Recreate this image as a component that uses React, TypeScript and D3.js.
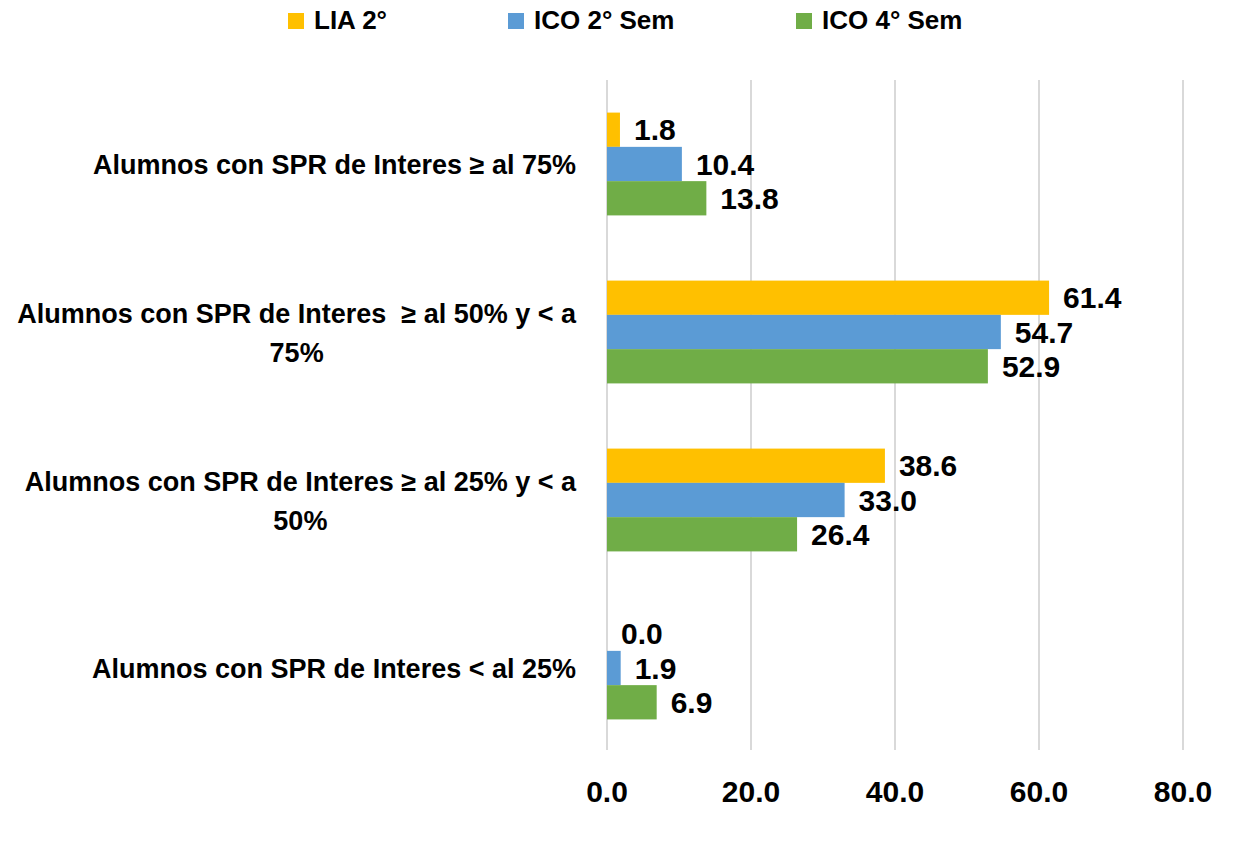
import React, { useRef, useEffect } from "react";
import * as d3 from "d3";

// Categories (top to bottom), each split into display lines
const categories: string[][] = [
    ["Alumnos con SPR de Interes ≥ al 75%"],
    ["Alumnos con SPR de Interes  ≥ al 50% y < a", "75%"],
    ["Alumnos con SPR de Interes ≥ al 25% y < a", "50%"],
    ["Alumnos con SPR de Interes < al 25%"],
];

const seriesNames = ["LIA 2°", "ICO 2° Sem", "ICO 4° Sem"];
const seriesColors = ["#FFC000", "#5B9BD5", "#70AD47"];

const liaValues = [1.8, 61.4, 38.6, 0.0];
const ico2Values = [10.4, 54.7, 33.0, 1.9];
const ico4Values = [13.8, 52.9, 26.4, 6.9];

const xTicks = [0, 20, 40, 60, 80];

const FONT = "'Liberation Sans', Arial, sans-serif";

export default function App() {
    const svgRef = useRef<SVGSVGElement>(null);

    useEffect(() => {
        if (!svgRef.current) return;
        const svg = d3.select(svgRef.current);
        svg.selectAll("*").remove();

        const W = 1258, H = 855;
        const plot = { left: 607, right: 1183, top: 80, bottom: 752 };
        const series = [liaValues, ico2Values, ico4Values];

        const x = d3.scaleLinear().domain([0, 80]).range([plot.left, plot.right]);
        const y0 = d3.scaleBand<number>()
            .domain(d3.range(categories.length))
            .range([plot.top, plot.bottom])
            .paddingInner(0.388)
            .paddingOuter(0.194);
        const y1 = d3.scaleBand<number>()
            .domain(d3.range(series.length))
            .range([0, y0.bandwidth()]);

        svg.attr("width", W).attr("height", H);
        svg.append("rect").attr("width", W).attr("height", H).attr("fill", "#fff");

        // Gridlines
        svg.append("g")
            .selectAll("line")
            .data(xTicks)
            .join("line")
            .attr("x1", d => x(d)).attr("x2", d => x(d))
            .attr("y1", plot.top).attr("y2", plot.bottom - 2)
            .attr("stroke", "#d9d9d9")
            .attr("stroke-width", 2);

        // Tick labels
        svg.append("g")
            .selectAll("text")
            .data(xTicks)
            .join("text")
            .attr("x", d => x(d))
            .attr("y", 802)
            .attr("text-anchor", "middle")
            .attr("font-family", FONT)
            .attr("font-weight", "bold")
            .attr("font-size", 30)
            .attr("fill", "#000")
            .text(d => d3.format(".1f")(d));

        // Bars + value labels
        series.forEach((vals, si) => {
            const g = svg.append("g");
            g.selectAll("rect")
                .data(vals)
                .join("rect")
                .attr("x", x(0))
                .attr("y", (_, i) => (y0(i) ?? 0) + (y1(si) ?? 0))
                .attr("width", d => x(d) - x(0))
                .attr("height", y1.bandwidth())
                .attr("fill", seriesColors[si]);

            g.selectAll("text")
                .data(vals)
                .join("text")
                .attr("x", d => x(d) + 14)
                .attr("y", (_, i) => (y0(i) ?? 0) + (y1(si) ?? 0) + y1.bandwidth() / 2 + 10.5)
                .attr("font-family", FONT)
                .attr("font-weight", "bold")
                .attr("font-size", 30)
                .attr("fill", "#000")
                .text(d => d3.format(".1f")(d));
        });

        // Category labels (right edge aligned, extra lines centred on first line)
        const labelRight = 576;
        const lineGap = 39;
        categories.forEach((lines, i) => {
            const cy = (y0(i) ?? 0) + y0.bandwidth() / 2;
            const g = svg.append("g");
            const texts = lines.map((ln, li) =>
                g.append("text")
                    .attr("y", cy + (li - (lines.length - 1) / 2) * lineGap + 10)
                    .attr("text-anchor", "middle")
                    .attr("font-family", FONT)
                    .attr("font-weight", "bold")
                    .attr("font-size", 27)
                    .attr("fill", "#000")
                    .style("white-space", "pre")
                    .text(ln)
            );
            const widths = texts.map(t => (t.node() as SVGTextElement).getComputedTextLength());
            const maxW = d3.max(widths) || 0;
            texts.forEach(t => t.attr("x", labelRight - maxW / 2));
        });

        // Legend
        const legendX = [288, 508, 796];
        const legend = svg.append("g");
        seriesNames.forEach((name, i) => {
            legend.append("rect")
                .attr("x", legendX[i]).attr("y", 13)
                .attr("width", 16).attr("height", 16)
                .attr("fill", seriesColors[i]);
            legend.append("text")
                .attr("x", legendX[i] + 26)
                .attr("y", 29)
                .attr("font-family", FONT)
                .attr("font-weight", "bold")
                .attr("font-size", 26)
                .attr("fill", "#000")
                .text(name);
        });
    }, []);

    return (
        <div style={{ position: "absolute", left: 0, top: 0 }}>
            <svg ref={svgRef} style={{ display: "block" }} />
        </div>
    );
}
